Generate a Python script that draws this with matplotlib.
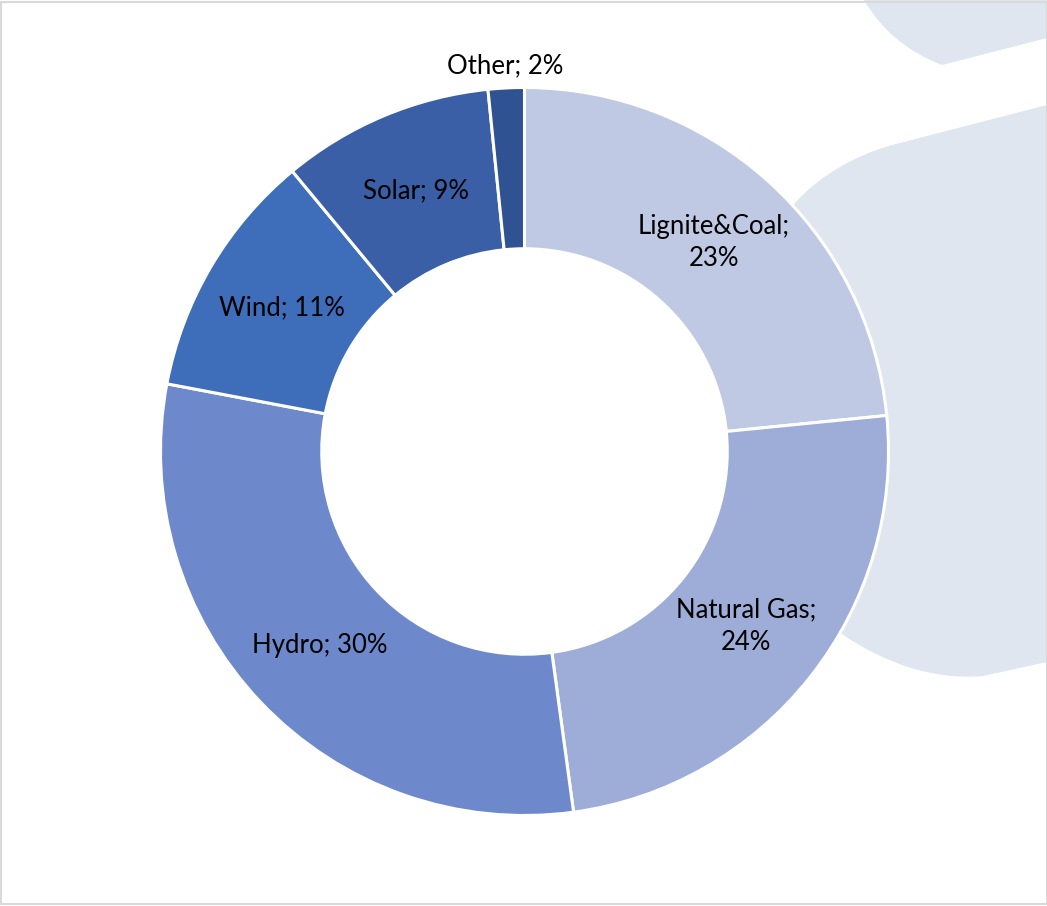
import numpy as np
import matplotlib.pyplot as plt
from matplotlib.path import Path
from matplotlib.patches import PathPatch, Rectangle

# Electricity generation mix (shares, %)
sources = ["Lignite&Coal", "Natural Gas", "Hydro", "Wind", "Solar", "Other"]
shares = [23.4, 24.4, 30.1, 11.0, 9.4, 1.6]
labels = ["Lignite&Coal;\n23%", "Natural Gas;\n24%", "Hydro; 30%",
          "Wind; 11%", "Solar; 9%", "Other; 2%"]
colors = ["#BFC9E4", "#9EADD8", "#6E89CB", "#3E6DBA", "#3A5FA6", "#2F5392"]

W, H = 1047, 906
fig = plt.figure(figsize=(W / 100, H / 100), dpi=100)
ax = fig.add_axes([0, 0, 1, 1])

bg = "#DFE6EF"
def py(y):
    return H - y

# decorative shapes on the right
top = Path([(864, py(-5)), (864, py(0)), (890, py(45)), (942, py(65)),
            (1047, py(38)), (1047, py(-5)), (864, py(-5))],
           [Path.MOVETO, Path.LINETO, Path.CURVE3, Path.CURVE3,
            Path.LINETO, Path.LINETO, Path.CLOSEPOLY])
ax.add_patch(PathPatch(top, fc=bg, ec="none", zorder=0))

side = Path([(1047, py(105)), (900, py(143)),
             (830, py(160)), (780, py(205)), (760, py(260)),
             (770, py(560)),
             (790, py(600)), (880, py(685)), (983, py(676)),
             (1047, py(662)), (1047, py(105))],
            [Path.MOVETO, Path.LINETO,
             Path.CURVE4, Path.CURVE4, Path.CURVE4,
             Path.LINETO,
             Path.CURVE4, Path.CURVE4, Path.CURVE4,
             Path.LINETO, Path.CLOSEPOLY])
ax.add_patch(PathPatch(side, fc=bg, ec="none", zorder=0))

# donut
cx, cy, R = 524.5, py(451.5), 364
wedges, _ = ax.pie(shares, colors=colors, startangle=90, counterclock=False,
                   center=(cx, cy), radius=R, frame=True,
                   wedgeprops=dict(width=R * 0.443, edgecolor="white", linewidth=2.2))
for w in wedges:
    w.set_zorder(2)
ax.set_xlim(0, W)
ax.set_ylim(0, H)
ax.set_aspect("equal")
ax.axis("off")

cum = np.cumsum([0] + shares)
total = cum[-1]
for i, lab in enumerate(labels):
    mid = 90 - (cum[i] + shares[i] / 2) / total * 360
    r = R * 0.775 if shares[i] > 5 else R + 22
    x = cx + r * np.cos(np.radians(mid))
    y = cy + r * np.sin(np.radians(mid))
    ax.text(x, y, lab, ha="center", va="center", fontsize=18.5,
            family=["Lato", "DejaVu Sans"], color="black",
            linespacing=1.35, zorder=3)

# frame
ax.add_patch(Rectangle((0.5, 2), W - 1, H - 3.5, fill=False, ec="#D9D9D9",
                       lw=1.5, zorder=4))

fig.savefig("out.png", dpi=100, facecolor="white")
